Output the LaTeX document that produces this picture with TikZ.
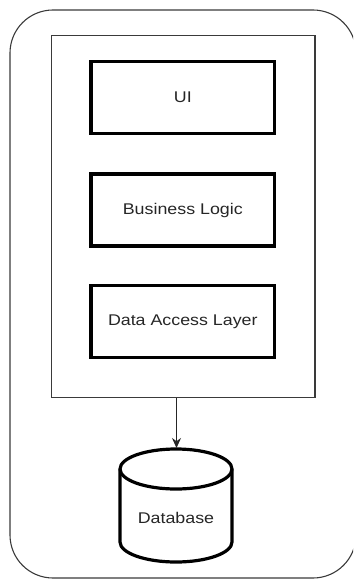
\documentclass[tikz,border=0pt]{standalone}
\usepackage{fontspec}
\setmainfont{Liberation Sans}
\newfontfamily\labfont[FakeStretch=1.15]{Liberation Sans}
\usetikzlibrary{arrows.meta}
\definecolor{edge}{HTML}{3A3A3A}
\tikzset{
  labeltext/.style={font=\labfont\fontsize{15.5}{18}\selectfont, text=black!85},
  layerbox/.style={draw=black, line width=3.5pt, minimum width=183.7pt, minimum height=72pt, inner sep=0pt, labeltext},
  framebox/.style={draw=edge, line width=1.1pt, inner sep=0pt},
  conn/.style={draw=black!85, line width=1pt, -{Stealth[length=10pt,width=9pt]}},
  dbline/.style={draw=black, line width=3.2pt}
}
\begin{document}
\begin{tikzpicture}[x=1pt,y=-1pt]
\useasboundingbox (0,0) rectangle (353,580);
\begin{scope}
\clip (0,0) rectangle (353,580);
\draw[draw=edge, line width=1.1pt, rounded corners=43pt] (10,10) rectangle (356,578);
\end{scope}
\node[framebox, minimum width=263.3pt, minimum height=361.7pt] (inner) at (183.3,216.8) {};
\node[layerbox] (ui) at (182.8,97.5) {UI};
\node[layerbox] (bl) at (182.8,210) {Business Logic};
\node[layerbox] (dal) at (182.8,321.5) {Data Access Layer};
% database cylinder
\draw[dbline, fill=white] (120,469) -- (120,542) arc (180:0:56 and 20) -- (232,469) arc (0:-180:56 and 20) -- cycle;
\draw[dbline] (120,469) arc (180:0:56 and 20);
\coordinate (dbtop) at (176.5,448);
\node[labeltext] (db) at (176,518) {Database};
\draw[conn] (inner.south -| dbtop) -- (dbtop);
\end{tikzpicture}
\end{document}
